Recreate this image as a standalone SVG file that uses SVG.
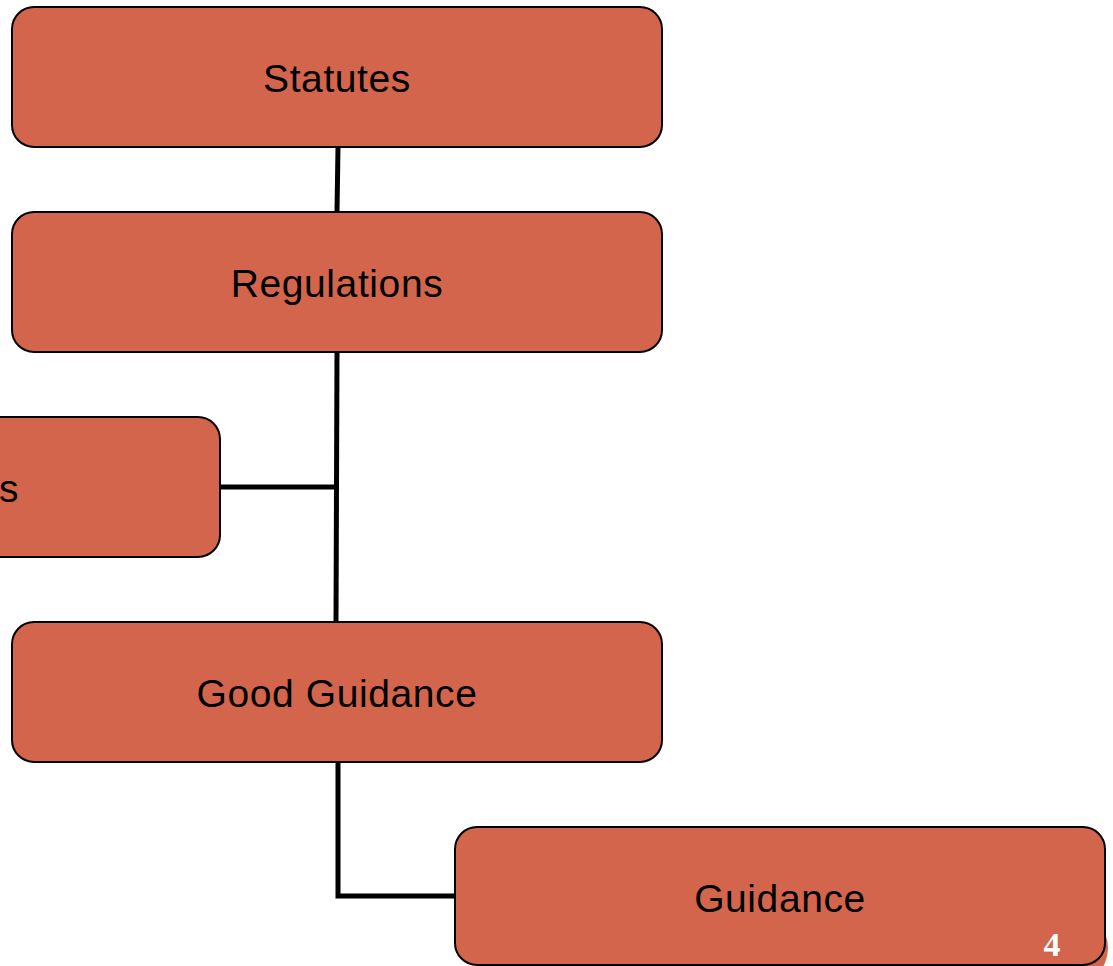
<svg xmlns="http://www.w3.org/2000/svg" width="1113" height="966" viewBox="0 0 1113 966">
<style>
.box{fill:#D2654B;stroke:#000;stroke-width:2}
.lbl{font-family:"Liberation Sans",Arial,sans-serif;font-size:39px;letter-spacing:0.6px;fill:#000;text-anchor:middle}
.con{fill:none;stroke:#000;stroke-width:5}
.num{font-family:"Liberation Serif","Times New Roman",serif;font-size:34px;font-weight:bold;fill:#fff;text-anchor:middle}
</style>
<rect width="1113" height="966" fill="#fff"/>
<circle cx="1070" cy="948" r="38" fill="#D2654B"/>
<g id="connectors">
<path class="con" d="M338,147 L337,212"/>
<path class="con" d="M337,352 L336,622"/>
<path class="con" d="M220,487 L336,487"/>
<path class="con" d="M338,762 L338,896 L455,896"/>
</g>
<g id="statutes">
<rect class="box" x="12" y="7" width="650" height="140" rx="22"/>
<text class="lbl" x="337" y="92">Statutes</text>
</g>
<g id="regulations">
<rect class="box" x="12" y="212" width="650" height="140" rx="22"/>
<text class="lbl" x="337" y="297">Regulations</text>
</g>
<g id="left">
<rect class="box" x="-430" y="417" width="650" height="140" rx="22"/>
<text class="lbl" x="9" y="502">s</text>
</g>
<g id="good-guidance">
<rect class="box" x="12" y="622" width="650" height="140" rx="22"/>
<text class="lbl" x="337" y="707">Good Guidance</text>
</g>
<g id="guidance">
<rect class="box" x="455" y="827" width="650" height="138" rx="22"/>
<text class="lbl" x="780" y="912">Guidance</text>
</g>
<text class="num" x="1052" y="956">4</text>
</svg>
